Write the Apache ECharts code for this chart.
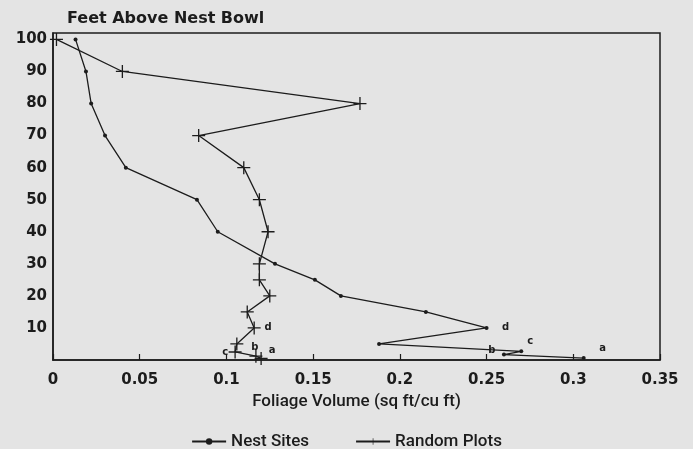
<!DOCTYPE html>
<html>
<head>
<meta charset="utf-8">
<script src="https://cdn.jsdelivr.net/npm/echarts@6/dist/echarts.min.js"></script>
<style>
html,body{margin:0;padding:0;background:#e4e4e4;}
#chart{width:693px;height:449px;}
</style>
</head>
<body>
<div id="chart"></div>
<script>
// ---- data ----
const title = 'Feet Above Nest Bowl';
const xAxisName = 'Foliage Volume (sq ft/cu ft)';
const seriesNames = ['Nest Sites', 'Random Plots'];

const nestHeights = [100, 90, 80, 70, 60, 50, 40, 30, 25, 20, 15, 10, 5, 2.7, 1.7, 0.6];
const nestValues  = [0.013, 0.019, 0.022, 0.030, 0.042, 0.083, 0.095, 0.128, 0.151, 0.166, 0.215, 0.250, 0.188, 0.270, 0.260, 0.306];
const nestTags    = ['', '', '', '', '', '', '', '', '', '', '', 'd', '', 'c', 'b', 'a'];

const randHeights = [100, 90, 80, 70, 60, 50, 40, 30, 25, 20, 15, 10, 5, 2.5, 1.2, 0.5];
const randValues  = [0.002, 0.040, 0.177, 0.084, 0.110, 0.119, 0.124, 0.119, 0.119, 0.125, 0.112, 0.116, 0.106, 0.105, 0.117, 0.120];
const randTags    = ['', '', '', '', '', '', '', '', '', '', '', 'd', '', 'c', 'b', 'a'];

const xTicks = [0, 0.05, 0.1, 0.15, 0.2, 0.25, 0.3, 0.35];
const yTickLabels = [10, 20, 30, 40, 50, 60, 70, 80, 90, 100];

// ---- styling / layout ----
const INK = '#1c1c1c';
const PLUS = 'path://M4.5,0H5.5V4.5H10V5.5H5.5V10H4.5V5.5H0V4.5H4.5Z';

const nestOffsets = { d: [19, -1], c: [9, -10], b: [-12, -4], a: [19, -10] };
const randOffsets = { d: [14, -1], c: [-10, 0], b: [-1, -9], a: [11, -8] };

function build(values, heights, tags, offsets) {
  return values.map((v, i) => {
    const item = { value: [v, heights[i]] };
    if (tags[i]) {
      item.label = {
        show: true, formatter: tags[i], position: 'inside',
        offset: offsets[tags[i]], color: INK,
        fontFamily: 'DejaVu Sans', fontWeight: 'bold', fontSize: 10
      };
    }
    return item;
  });
}

const chart = echarts.init(document.getElementById('chart'), null, { renderer: 'canvas' });
chart.setOption({
  backgroundColor: '#e4e4e4',
  animation: false,
  title: {
    text: title, left: 62, top: 6,
    textStyle: { fontFamily: 'DejaVu Sans', fontWeight: 'bold', fontSize: 16, color: INK }
  },
  legend: {
    top: 428, left: 'center', itemGap: 46, itemWidth: 34, itemHeight: 8,
    textStyle: { fontFamily: 'Roboto', fontWeight: 500, fontSize: 17, color: INK },
    data: [
      { name: seriesNames[0] },
      { name: seriesNames[1] }
    ]
  },
  grid: {
    left: 53, right: 33, top: 33, bottom: 89,
    show: true, borderColor: INK, borderWidth: 1.5, backgroundColor: 'transparent'
  },
  xAxis: {
    type: 'value', min: xTicks[0], max: xTicks[xTicks.length - 1], interval: 0.05,
    name: xAxisName, nameLocation: 'middle', nameGap: 33,
    nameTextStyle: { fontFamily: 'Roboto', fontWeight: 500, fontSize: 17, color: INK },
    axisLine: { lineStyle: { color: INK, width: 1.5 } },
    axisTick: { inside: true, length: 6, lineStyle: { color: INK, width: 1.2 } },
    axisLabel: {
      margin: 13, color: INK, fontFamily: 'DejaVu Sans', fontWeight: 'bold', fontSize: 15,
      formatter: v => xTicks.indexOf(Math.round(v * 100) / 100) >= 0 ? String(Math.round(v * 100) / 100) : ''
    },
    splitLine: { show: false }
  },
  yAxis: {
    type: 'value', min: 0, max: 102, interval: 10,
    axisLine: { show: true, lineStyle: { color: INK, width: 1.5 } },
    axisTick: { show: false },
    axisLabel: {
      margin: 6, color: INK, fontFamily: 'DejaVu Sans', fontWeight: 'bold', fontSize: 15,
      formatter: v => yTickLabels.indexOf(v) >= 0 ? String(v) : ''
    },
    splitLine: { show: false }
  },
  series: [
    {
      name: seriesNames[0], type: 'line',
      data: build(nestValues, nestHeights, nestTags, nestOffsets),
      symbol: 'circle', symbolSize: 4,
      lineStyle: { color: INK, width: 1.3 },
      itemStyle: { color: INK }
    },
    {
      name: seriesNames[1], type: 'line',
      data: build(randValues, randHeights, randTags, randOffsets),
      symbol: PLUS, symbolSize: 13,
      lineStyle: { color: INK, width: 1.3 },
      itemStyle: { color: INK }
    }
  ]
});
</script>
</body>
</html>
